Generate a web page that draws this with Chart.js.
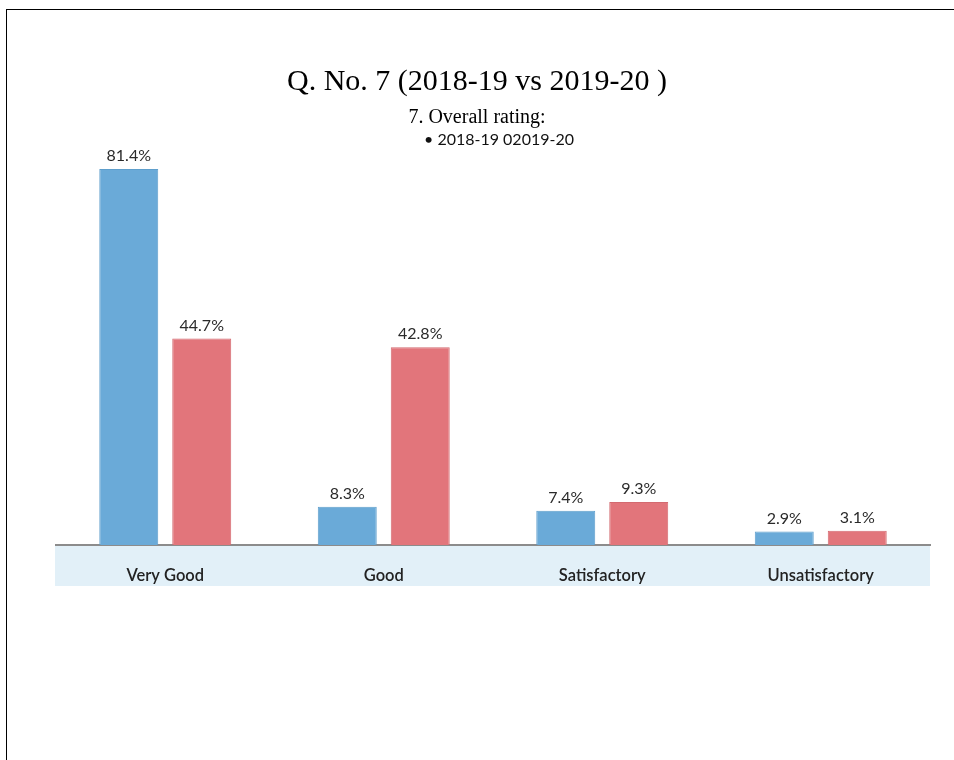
<!DOCTYPE html>
<html>
<head>
<meta charset="utf-8">
<script src="https://cdn.jsdelivr.net/npm/chart.js@4"></script>
<style>
  html, body { margin: 0; padding: 0; background: #fff; }
  #wrap { position: relative; width: 954px; height: 760px; overflow: hidden; }
  #frame { position: absolute; left: 6px; top: 9px; width: 960px; height: 760px; border-left: 1px solid #000; border-top: 1px solid #000; }
  canvas { position: absolute; left: 0; top: 0; }
  .t { position: absolute; left: 0; width: 954px; text-align: center; color: #000; white-space: nowrap; }
  #title { top: 63px; font: 30px "Liberation Serif", serif; }
  #subtitle { top: 105px; font: 20px "Liberation Serif", serif; }
  #legend { top: 129px; left: 22px; font: 16px "Lato", sans-serif; color: #111; }
</style>
</head>
<body>
<div id="wrap">
  <div id="frame"></div>
  <canvas id="c" width="954" height="760"></canvas>
  <div class="t" id="title">Q. No. 7 (2018-19 vs 2019-20 )</div>
  <div class="t" id="subtitle">7. Overall rating:</div>
  <div class="t" id="legend">• 2018-19 02019-20</div>
</div>
<script>
const categories = ["Very Good", "Good", "Satisfactory", "Unsatisfactory"];
const seriesNames = ["2018-19", "2019-20"];
const values2018_19 = [81.4, 8.3, 7.4, 2.9];
const values2019_20 = [44.7, 42.8, 9.3, 3.1];

const bandPlugin = {
  id: 'band',
  beforeDraw(chart) {
    const ctx = chart.ctx, a = chart.chartArea;
    ctx.save();
    ctx.fillStyle = '#e2f0f8';
    ctx.fillRect(a.left - 1, a.bottom, a.right - a.left + 1, 41);
    ctx.restore();
  }
};

const labelPlugin = {
  id: 'valueLabels',
  afterDatasetsDraw(chart) {
    const ctx = chart.ctx;
    ctx.save();
    ctx.font = '16px Lato, sans-serif';
    ctx.fillStyle = '#2a2a2a';
    ctx.textAlign = 'center';
    ctx.textBaseline = 'bottom';
    chart.data.datasets.forEach((ds, i) => {
      chart.getDatasetMeta(i).data.forEach((bar, j) => {
        ctx.fillText(ds.data[j].toFixed(1) + '%', bar.x, bar.y - 5);
      });
    });
    ctx.restore();
  }
};

new Chart(document.getElementById('c'), {
  type: 'bar',
  data: {
    labels: categories,
    datasets: [
      { label: seriesNames[0], data: values2018_19, backgroundColor: '#6aaad8', borderColor: '#5f9fcc', borderWidth: 1 },
      { label: seriesNames[1], data: values2019_20, backgroundColor: '#e2757b', borderColor: '#d36a70', borderWidth: 1 }
    ]
  },
  options: {
    responsive: false,
    animation: false,
    events: [],
    categoryPercentage: 0.668,
    barPercentage: 0.808,
    layout: { padding: { left: 56, right: 24, top: 83, bottom: 174 } },
    plugins: { legend: { display: false }, title: { display: false }, tooltip: { enabled: false } },
    scales: {
      x: {
        grid: { display: false, drawTicks: false },
        border: { display: true, color: '#8c8c8c', width: 2 },
        ticks: { color: '#222', font: { family: 'Lato', size: 16.5, weight: '600' }, padding: 21 },
        afterFit(scale) { scale.height = 41; }
      },
      y: { display: false, min: 0, max: 100 }
    }
  },
  plugins: [bandPlugin, labelPlugin]
});
</script>
</body>
</html>
